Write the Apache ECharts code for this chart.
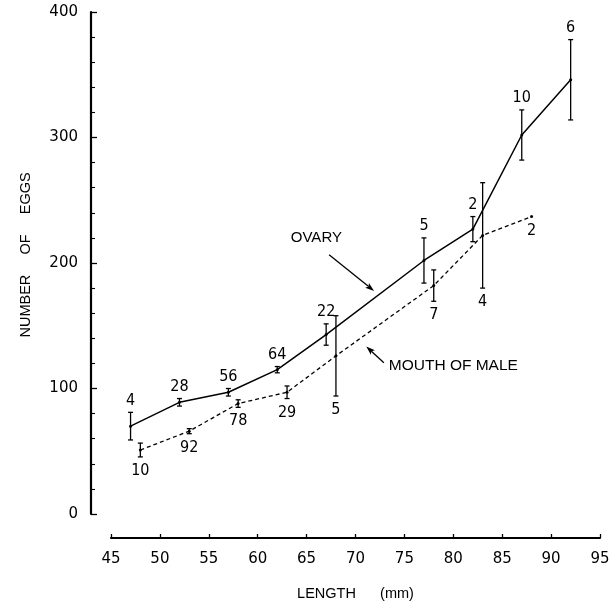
<!DOCTYPE html>
<html>
<head>
<meta charset="utf-8">
<script src="https://cdn.jsdelivr.net/npm/echarts@6/dist/echarts.min.js"></script>
<style>
  html, body { margin: 0; background: #fff; }
  #chart { width: 615px; height: 604px; }
</style>
</head>
<body>
<div id="chart"></div>
<script>
// Egg counts by body length: ovary vs. eggs carried in the mouth of the male.
const ovaryLength = [47, 52, 57, 62, 67, 77, 82, 87, 92];
const ovaryEggs   = [70, 89, 97, 115, 143, 202, 227, 302, 346];
const ovaryErr    = [11, 3, 3, 2.5, 8.5, 18, 10, 20, 32];
const ovaryN      = [4, 28, 56, 64, 22, 5, 2, 10, 6];

const mouthLength = [48, 53, 58, 63, 68, 78, 83, 88];
const mouthEggs   = [51, 66, 88, 97, 126, 182, 222, 237];
const mouthErr    = [5.5, 2, 3, 5, 32, 12.5, 42, 0];
const mouthN      = [10, 92, 78, 29, 5, 7, 4, 2];

const xTicks = [45, 50, 55, 60, 65, 70, 75, 80, 85, 90, 95];
const yTicks = [0, 100, 200, 300, 400];

const INK = '#000';
const countFont = '"DejaVu Sans Condensed", "Liberation Sans Narrow", sans-serif';
const tickFont = '"DejaVu Sans", sans-serif';
const titleFont = '"Liberation Sans", Arial, sans-serif';

function zip(xs, ys, es, ns) {
  return xs.map((x, i) => [x, ys[i], es[i], ns[i]]);
}

// Error bar with caps plus the sample-size label (above or below the bar)
function errorBars(labelAbove) {
  return function (params, api) {
    const x = api.value(0), y = api.value(1), e = api.value(2), n = api.value(3);
    const hi = api.coord([x, y + e]);
    const lo = api.coord([x, y - e]);
    const cap = 2.5;
    const style = { stroke: INK, lineWidth: 1.3 };
    const children = [];
    if (e > 0) {
      children.push(
        { type: 'line', shape: { x1: hi[0], y1: hi[1], x2: lo[0], y2: lo[1] }, style },
        { type: 'line', shape: { x1: hi[0] - cap, y1: hi[1], x2: hi[0] + cap, y2: hi[1] }, style },
        { type: 'line', shape: { x1: lo[0] - cap, y1: lo[1], x2: lo[0] + cap, y2: lo[1] }, style }
      );
    }
    const ty = labelAbove ? hi[1] - 12 : lo[1] + 14;
    children.push({
      type: 'text',
      style: {
        x: hi[0], y: ty, text: String(n),
        fill: INK, font: '16px ' + countFont,
        align: 'center', verticalAlign: 'middle'
      }
    });
    return { type: 'group', children };
  };
}

const chart = echarts.init(document.getElementById('chart'), null, { renderer: 'canvas' });

chart.setOption({
  animation: false,
  backgroundColor: '#fff',
  grid: { left: 111, right: 15, top: 12, bottom: 90, outerBoundsMode: 'none', containLabel: false },
  xAxis: {
    type: 'value',
    min: xTicks[0], max: xTicks[xTicks.length - 1], interval: 5,
    offset: 24,
    name: 'LENGTH      (mm)',
    nameLocation: 'middle',
    nameGap: 48,
    nameTextStyle: { color: INK, fontSize: 14.5, fontFamily: titleFont },
    axisLine: { show: true, onZero: false, lineStyle: { color: INK, width: 2.2 } },
    axisTick: { show: true, inside: true, length: 4, lineStyle: { color: INK, width: 1.3 } },
    axisLabel: { color: INK, fontSize: 15, fontFamily: tickFont, margin: 14 },
    splitLine: { show: false }
  },
  yAxis: {
    type: 'value',
    min: yTicks[0], max: yTicks[yTicks.length - 1], interval: 100,
    offset: 20,
    name: '    NUMBER     OF     EGGS',
    nameLocation: 'middle',
    nameRotate: 90,
    nameGap: 58,
    nameTextStyle: { color: INK, fontSize: 14.5, fontFamily: titleFont },
    axisLine: { show: true, onZero: false, lineStyle: { color: INK, width: 2.2 } },
    axisTick: { show: true, inside: true, length: 6, lineStyle: { color: INK, width: 1.3 } },
    minorTick: { show: true, splitNumber: 5, length: 4, lineStyle: { color: INK, width: 1.1 } },
    axisLabel: { color: INK, fontSize: 15, fontFamily: tickFont, margin: 13 },
    splitLine: { show: false }
  },
  series: [
    {
      name: 'Ovary',
      type: 'line',
      data: ovaryLength.map((x, i) => [x, ovaryEggs[i]]),
      symbol: 'circle', symbolSize: 3,
      itemStyle: { color: INK },
      lineStyle: { color: INK, width: 1.5, type: 'solid' },
      z: 3
    },
    {
      name: 'Mouth of male',
      type: 'line',
      data: mouthLength.map((x, i) => [x, mouthEggs[i]]),
      symbol: 'circle', symbolSize: 3,
      itemStyle: { color: INK },
      lineStyle: { color: INK, width: 1.3, type: [4, 3] },
      z: 3
    },
    {
      type: 'custom',
      renderItem: errorBars(true),
      data: zip(ovaryLength, ovaryEggs, ovaryErr, ovaryN),
      encode: { x: 0, y: 1 },
      z: 4
    },
    {
      type: 'custom',
      renderItem: errorBars(false),
      data: zip(mouthLength, mouthEggs, mouthErr, mouthN),
      encode: { x: 0, y: 1 },
      z: 4
    }
  ]
});

// Callout labels with arrows, placed in data units
const callouts = [
  { text: 'OVARY', at: [66.0, 220], align: 'center', font: '15px ' + titleFont,
    from: [67.3, 206.5], to: [71.9, 177.7] },
  { text: 'MOUTH OF MALE', at: [73.4, 118.5], align: 'left', font: '15.5px ' + titleFont,
    from: [72.9, 120.5], to: [71.1, 133.5] }
];

function arrow(p0, p1) {
  const dx = p1[0] - p0[0], dy = p1[1] - p0[1];
  const len = Math.hypot(dx, dy);
  const ux = dx / len, uy = dy / len;
  const hl = 9, hw = 3;
  const bx = p1[0] - ux * hl, by = p1[1] - uy * hl;
  return [
    { type: 'line', shape: { x1: p0[0], y1: p0[1], x2: bx + ux * 2, y2: by + uy * 2 },
      style: { stroke: INK, lineWidth: 1.3 } },
    { type: 'polygon',
      shape: { points: [[p1[0], p1[1]], [bx - uy * hw, by + ux * hw], [bx + ux * 2, by + uy * 2], [bx + uy * hw, by - ux * hw]] },
      style: { fill: INK } }
  ];
}

const graphics = [];
callouts.forEach(c => {
  const p = chart.convertToPixel({ gridIndex: 0 }, c.at);
  graphics.push({
    type: 'text',
    style: { x: p[0], y: p[1], text: c.text, fill: INK, font: c.font, align: c.align, verticalAlign: 'middle' }
  });
  const a = chart.convertToPixel({ gridIndex: 0 }, c.from);
  const b = chart.convertToPixel({ gridIndex: 0 }, c.to);
  arrow(a, b).forEach(g => graphics.push(g));
});
chart.setOption({ graphic: graphics });
</script>
</body>
</html>
